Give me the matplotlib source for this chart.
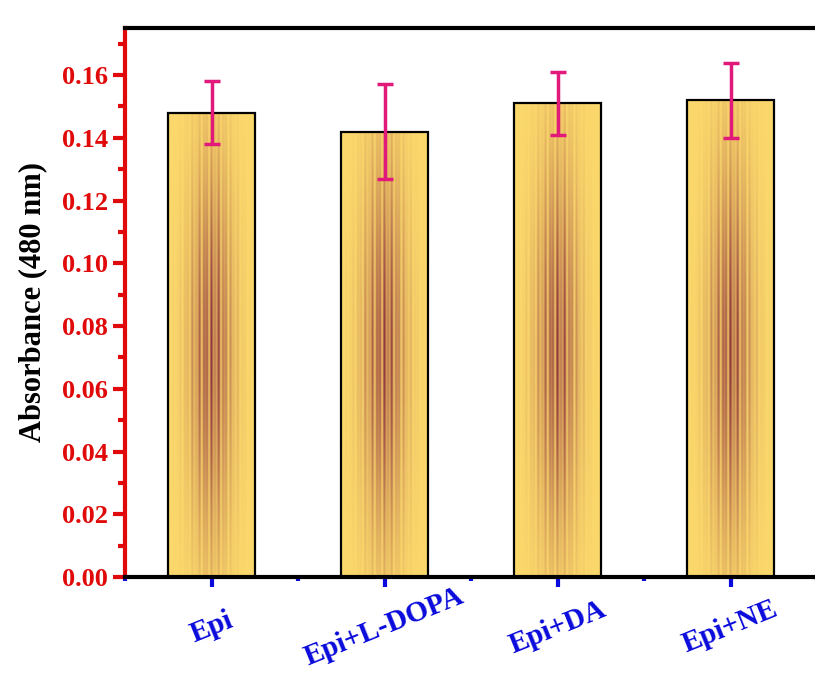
import numpy as np
import matplotlib
matplotlib.use("Agg")
import matplotlib.pyplot as plt
from matplotlib.ticker import MultipleLocator, FormatStrFormatter, FixedLocator

categories = ["Epi", "Epi+L-DOPA", "Epi+DA", "Epi+NE"]
values = [0.148, 0.142, 0.151, 0.152]
errors = [0.010, 0.015, 0.010, 0.012]

plt.rcParams['font.family'] = ['Liberation Serif', 'DejaVu Serif']
plt.rcParams['font.weight'] = 'bold'

RED = '#E00A0A'
BLUE = '#0A0ADC'

fig = plt.figure(figsize=(8.15, 6.75), dpi=100)
ax = fig.add_axes([125/815, 1-577/675, 692/815, (577-28)/675])

x = np.arange(1, len(categories)+1)
bars = ax.bar(x, values, width=0.5, facecolor='none', edgecolor='black',
              linewidth=1.6, zorder=3)

yellow = np.array([252, 217, 108]) / 255.0
dark = np.array([135, 40, 55]) / 255.0
nx, ny = 240, 300
for b in bars:
    x0, w, h = b.get_x(), b.get_width(), b.get_height()
    u = np.linspace(-1, 1, nx)
    yy = np.linspace(0, h, ny)
    U, Y = np.meshgrid(u, yy)
    stripes = 0.55 + 0.45 * np.cos(2 * np.pi * 9 * U) * np.cos(2 * np.pi * 2.3 * U + 0.4)
    stripes = np.clip(stripes, 0, 1)
    env = np.exp(-(U / 0.5) ** 2) * np.exp(-((Y - 0.072) / 0.06) ** 2)
    a = np.clip(env * stripes * 1.0, 0, 1)[..., None]
    img = yellow * (1 - a) + dark * a
    ax.imshow(img, extent=[x0, x0 + w, 0, h], origin='lower',
              aspect='auto', zorder=2, interpolation='bilinear')

ax.errorbar(x, values, yerr=errors, fmt='none', ecolor='#E0197A',
            elinewidth=2.5, capsize=5.5, capthick=2.5, zorder=4)

ax.set_xlim(0.5, 4.5)
ax.set_ylim(0, 0.175)

ax.set_xticks(x)
ax.set_xticklabels(categories, rotation=22, ha='center', va='center',
                   rotation_mode='anchor', color=BLUE,
                   fontsize=21, fontweight='bold')
ax.xaxis.set_minor_locator(FixedLocator(np.arange(0.5, 4.6, 1.0)))

ax.yaxis.set_major_locator(MultipleLocator(0.02))
ax.yaxis.set_minor_locator(MultipleLocator(0.01))
ax.yaxis.set_major_formatter(FormatStrFormatter('%.2f'))
for lab in ax.get_yticklabels():
    lab.set_fontweight('bold')

ax.tick_params(axis='y', which='major', direction='out', length=8.5, width=3,
               color=RED, labelcolor=RED, labelsize=19, pad=4)
ax.tick_params(axis='y', which='minor', direction='out', length=5, width=3,
               color=RED)
ax.tick_params(axis='x', which='major', direction='out', length=7, width=3,
               color=BLUE, labelcolor=BLUE, labelsize=21, pad=29)
ax.tick_params(axis='x', which='minor', direction='out', length=3, width=3,
               color=BLUE)

ax.spines['left'].set_color(RED)
ax.spines['left'].set_linewidth(3)
ax.spines['bottom'].set_color('black')
ax.spines['bottom'].set_linewidth(3)
ax.spines['top'].set_color('black')
ax.spines['top'].set_linewidth(3)
ax.spines['right'].set_linewidth(3)

ax.set_ylabel('Absorbance (480 nm)', fontsize=22, fontweight='bold',
              color='black', labelpad=10)

fig.savefig('out.png', dpi=100)
